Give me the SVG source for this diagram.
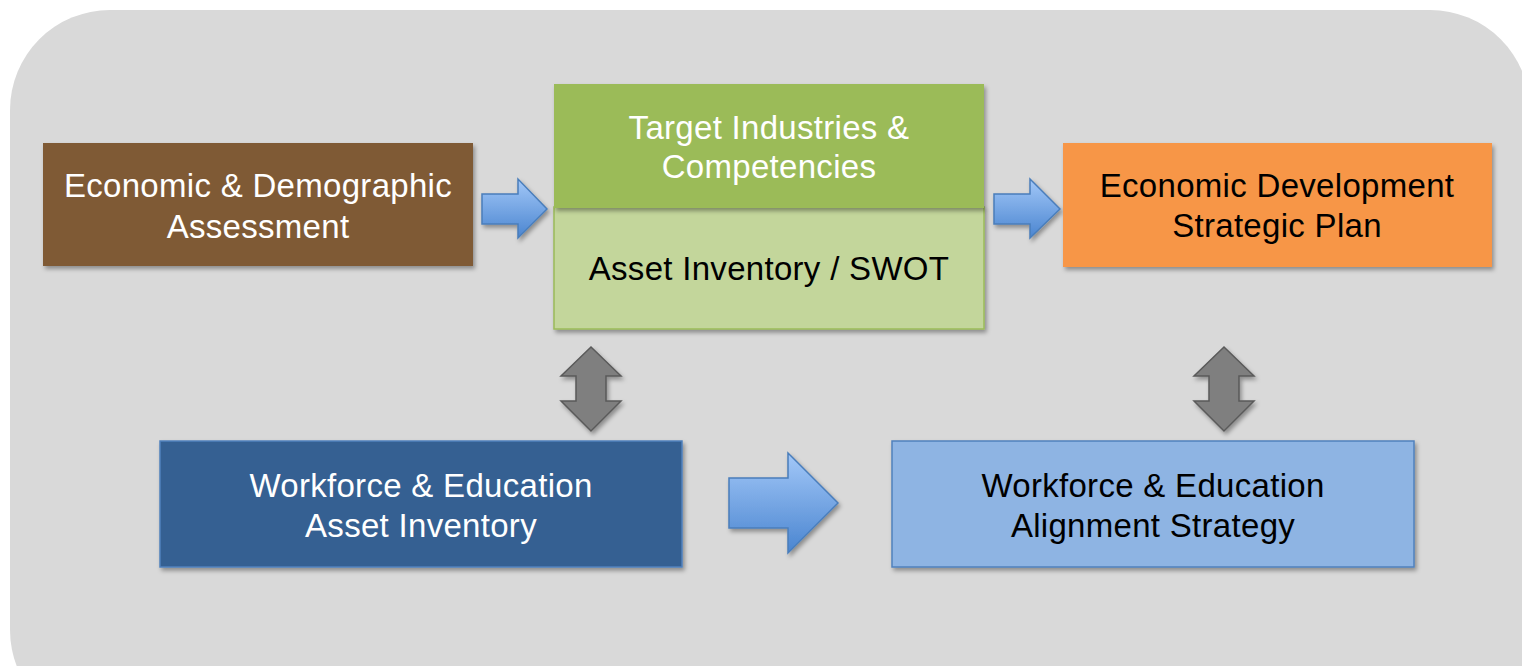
<svg xmlns="http://www.w3.org/2000/svg" width="1522" height="666" viewBox="0 0 1522 666">
<style>
text{font-family:"Liberation Sans",Arial,sans-serif;font-size:33px;letter-spacing:0.3px;text-anchor:middle}
.w{fill:#FFFFFF}.k{fill:#000000}
.blue{fill:url(#bg);stroke:#4A7EBB;stroke-width:1.5}
.gray{fill:#7F7F7F;stroke:#5A5A5A;stroke-width:1.5}
</style>
<defs>
<linearGradient id="bg" x1="0" y1="0" x2="0" y2="1">
<stop offset="0" stop-color="#A3C8F8"/>
<stop offset="1" stop-color="#4A85D0"/>
</linearGradient>
<filter id="sh" x="-10%" y="-10%" width="125%" height="130%">
<feDropShadow dx="2" dy="3" stdDeviation="2" flood-color="#000" flood-opacity="0.35"/>
</filter>
</defs>
<rect x="0" y="0" width="1522" height="666" fill="#FFFFFF"/>
<rect x="10" y="10" width="1520" height="720" rx="100" ry="100" fill="#D9D9D9"/>

<g id="connectors">
<polygon class="blue" filter="url(#sh)" points="482,194 518,194 518,179 547,209 518,238 518,224 482,224"/>
<polygon class="blue" filter="url(#sh)" points="994,194 1030,194 1030,179 1060,209 1030,238 1030,224 994,224"/>
<polygon class="blue" filter="url(#sh)" points="729,478 788,478 788,453 838,503 788,553 788,528 729,528"/>
<polygon class="gray" filter="url(#sh)" points="591,347 621,376 606,376 606,401 621,401 591,431 561,401 576,401 576,376 561,376"/>
<polygon class="gray" filter="url(#sh)" points="1224,347 1254,376 1239,376 1239,401 1254,401 1224,431 1194,401 1209,401 1209,376 1194,376"/>
</g>

<g id="node-econ-demo">
<rect x="43" y="143" width="430" height="123" fill="#7F5A36" filter="url(#sh)"/>
<text class="w" x="258" y="197">Economic &amp; Demographic</text>
<text class="w" x="258" y="238">Assessment</text>
</g>

<g id="node-asset-swot">
<rect x="554" y="207" width="430" height="122" fill="#C3D69B" stroke="#9BBB59" stroke-width="1.5" filter="url(#sh)"/>
<text class="k" x="769" y="280">Asset Inventory / SWOT</text>
</g>

<g id="node-target">
<rect x="554" y="84" width="430" height="124" fill="#9BBB59" filter="url(#sh)"/>
<text class="w" x="769" y="139">Target Industries &amp;</text>
<text class="w" x="769" y="178">Competencies</text>
</g>

<g id="node-ed-plan">
<rect x="1063" y="143" width="429" height="124" fill="#F79646" filter="url(#sh)"/>
<text class="k" x="1277" y="197">Economic Development</text>
<text class="k" x="1277" y="237">Strategic Plan</text>
</g>

<g id="node-wf-asset">
<rect x="160" y="441" width="522" height="126" fill="#366092" stroke="#4F81BD" stroke-width="1.5" filter="url(#sh)"/>
<text class="w" x="421" y="497">Workforce &amp; Education</text>
<text class="w" x="421" y="537">Asset Inventory</text>
</g>

<g id="node-wf-align">
<rect x="892" y="441" width="522" height="126" fill="#8EB4E3" stroke="#4F81BD" stroke-width="1.5" filter="url(#sh)"/>
<text class="k" x="1153" y="497">Workforce &amp; Education</text>
<text class="k" x="1153" y="537">Alignment Strategy</text>
</g>
</svg>
